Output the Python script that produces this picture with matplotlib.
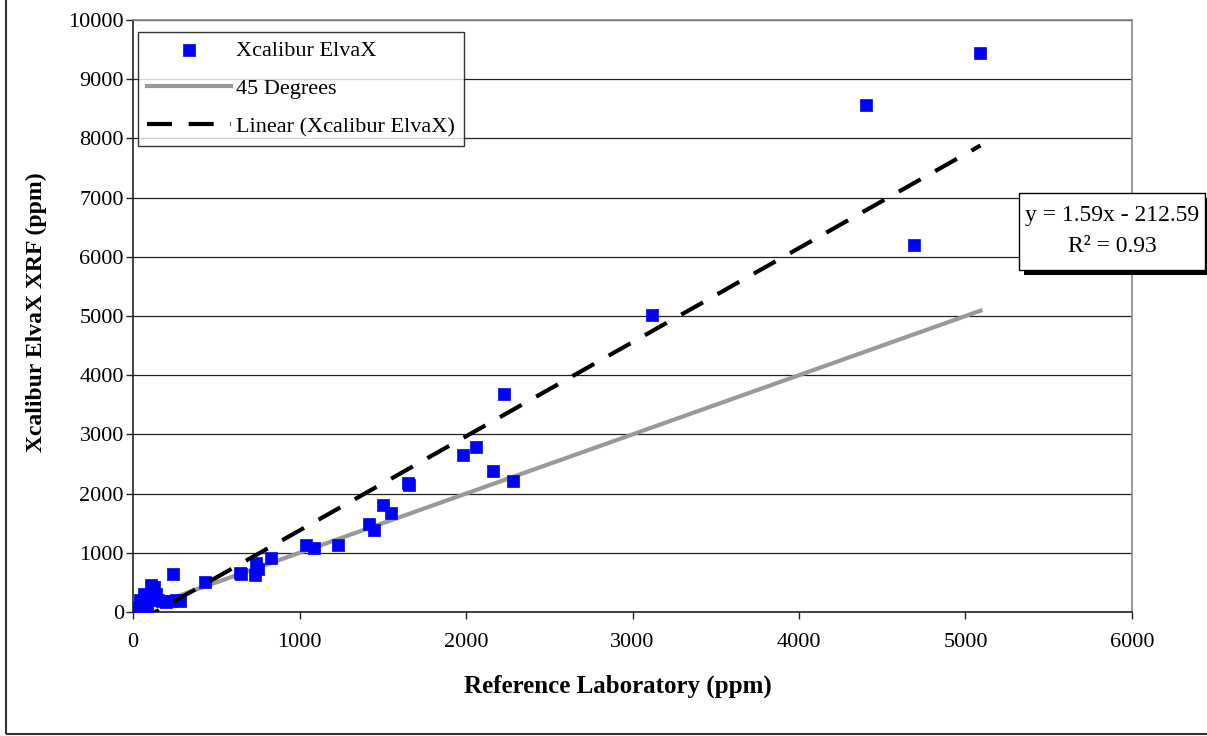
import matplotlib.pyplot as plt
import matplotlib.patches as mpatches
import numpy as np

plt.rcParams['font.family'] = ['Liberation Serif', 'DejaVu Serif']

# Xcalibur ElvaX vs reference lab (ppm)
ref_ppm = [5090, 4400, 4690, 3120, 2230, 1980, 2060, 2160, 2280, 1650,
           1660, 1500, 1550, 1420, 1450, 1040, 1090, 1230, 830, 740,
           750, 735, 640, 650, 430, 240,
           25, 35, 45, 55, 65, 75, 85, 95, 110, 125,
           120, 140, 150, 175, 200, 230, 260, 280]
xrf_ppm = [9440, 8570, 6200, 5020, 3690, 2650, 2790, 2380, 2210, 2180,
           2150, 1810, 1680, 1480, 1380, 1140, 1080, 1140, 910, 820,
           730, 630, 660, 640, 510, 640,
           40, 90, 210, 30, 310, 160, 60, 250, 460, 430,
           330, 300, 200, 190, 170, 180, 200, 180]

# 45 degree reference series
ref_line_x = [0, 5090]
ref_line_y = [0, 5090]

# Excel linear trendline
slope = 1.59
intercept = -212.59
r_squared = 0.93

W, H = 1207, 736
fig = plt.figure(figsize=(W / 100, H / 100), dpi=100)
ax = fig.add_axes([133 / W, 1 - 612 / H, (1132 - 133) / W, (612 - 20) / H])

ax.set_xlim(0, 6000)
ax.set_ylim(0, 10000)
ax.set_xticks(np.arange(0, 6001, 1000))
ax.set_yticks(np.arange(0, 10001, 1000))
ax.grid(axis='y', color='#222222', linewidth=0.9)
ax.set_axisbelow(True)
ax.tick_params(direction='out', length=5, width=1, labelsize=16, color='#222222')
ax.tick_params(axis='y', pad=1.5)
ax.tick_params(axis='x', pad=10)

for side in ['top', 'right']:
    ax.spines[side].set_color('#888888')
for side in ['left', 'bottom']:
    ax.spines[side].set_color('#222222')
for sp in ax.spines.values():
    sp.set_linewidth(1.2)

ax.plot(ref_line_x, ref_line_y, color='#999999', linewidth=3, label='45 Degrees', zorder=2)
ax.scatter(ref_ppm, xrf_ppm, marker='s', s=72, color='#0000FF', edgecolors='#0000FF',
           linewidths=0.5, label='Xcalibur ElvaX', zorder=3)

tx = np.array([min(ref_ppm), max(ref_ppm)])
ax.plot(tx, slope * tx + intercept, color='black', linewidth=3, dashes=(6, 4),
        label='Linear (Xcalibur ElvaX)', zorder=4)

handles, labels = ax.get_legend_handles_labels()
order = [1, 0, 2]
leg = ax.legend([handles[i] for i in order], [labels[i] for i in order],
                loc='upper left', bbox_to_anchor=(0.005, 0.98), borderaxespad=0,
                fontsize=16, frameon=True, fancybox=False, handlelength=3.8,
                handletextpad=0.2, labelspacing=0.78, borderpad=0.4,
                scatterpoints=1, markerscale=1.0)
leg.get_frame().set_edgecolor('black')
leg.get_frame().set_linewidth(1)

ax.set_xlabel('Reference Laboratory (ppm)', fontsize=18, fontweight='bold')
ax.xaxis.set_label_coords((618 - 133) / 999, -(675 - 612) / 592)
ax.set_ylabel('Xcalibur ElvaX XRF (ppm)', fontsize=17, fontweight='bold')
ax.yaxis.set_label_coords(-(133 - 47) / 999, 0.507)

# equation box with shadow (figure pixel coordinates)
bx0, by0, bx1, by1 = 1019, 193, 1205, 270
fig.patches.append(mpatches.Rectangle((bx0 + 5, H - by1 - 5), bx1 - bx0, by1 - by0,
                                      transform=None, facecolor='black', edgecolor='none',
                                      zorder=5))
box = mpatches.Rectangle((bx0 / W, 1 - by1 / H), (bx1 - bx0) / W, (by1 - by0) / H,
                         transform=fig.transFigure, facecolor='white', edgecolor='black',
                         linewidth=1, zorder=6)
fig.patches.append(box)
fig.text((bx0 + bx1) / 2 / W, 1 - 216 / H, 'y = %.2fx - %.2f' % (slope, -intercept),
         ha='center', va='center', fontsize=17, zorder=7)
fig.text((bx0 + bx1) / 2 / W, 1 - 247 / H, 'R² = %.2f' % r_squared,
         ha='center', va='center', fontsize=17, zorder=7)

# outer chart border
fig.patches.append(mpatches.Rectangle((6 / W, 1 - 734 / H), 1.0, 1.0,
                                      transform=fig.transFigure, facecolor='none',
                                      edgecolor='#333333', linewidth=1.5, clip_on=False))

fig.savefig('out.png', dpi=100)
